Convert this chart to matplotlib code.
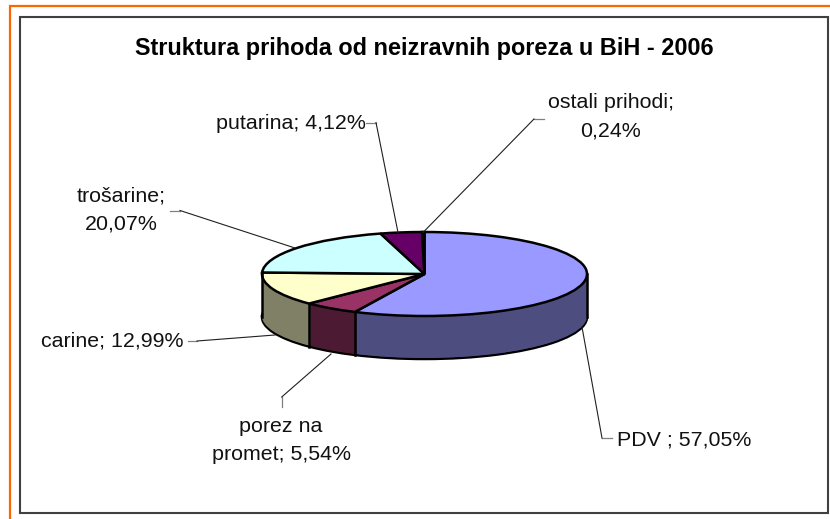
import matplotlib
matplotlib.use('Agg')
import matplotlib.pyplot as plt
from matplotlib.patches import Rectangle
import numpy as np

names = ['PDV', 'porez na promet', 'carine', 'trošarine', 'putarina', 'ostali prihodi']
shares = [57.05, 5.54, 12.99, 20.07, 4.12, 0.24]
top_colors = ['#9999ff', '#993366', '#ffffcc', '#ccffff', '#660066', '#ff8080']
side_colors = ['#4d4d80', '#4d1a33', '#808066', '#668080', '#330033', '#804040']
title = 'Struktura prihoda od neizravnih poreza u BiH - 2006'

W, H = 830, 519
cx, cy = 424.5, 274.0
rx, ry = 162.5, 42.0
depth = 43
edge_lw = 1.8

plt.rcParams['font.family'] = ['Liberation Sans', 'DejaVu Sans']
fig = plt.figure(figsize=(W / 100, H / 100), dpi=100)

# pie axes: unit circle squashed to the ellipse
ax = fig.add_axes([0, 0, 1, 1])
ax.pie(shares, colors=side_colors, startangle=90, counterclock=False, center=(0, -depth / ry),
       wedgeprops={'edgecolor': 'black', 'linewidth': edge_lw, 'clip_on': False})
for d in range(depth - 1, 0, -1):
    ax.pie(shares, colors=side_colors, startangle=90, counterclock=False, center=(0, -d / ry),
           wedgeprops={'edgecolor': 'none', 'linewidth': 0})

# vertical edges of the wall
ends = np.cumsum(shares) / sum(shares)
for e in ends:
    a = np.pi / 2 - 2 * np.pi * e
    if np.sin(a) < -0.05:
        ax.plot([np.cos(a), np.cos(a)], [np.sin(a), np.sin(a) - depth / ry], color='black', lw=edge_lw)
ax.plot([-1, -1], [0, -depth / ry], color='black', lw=edge_lw)
ax.plot([1, 1], [0, -depth / ry], color='black', lw=edge_lw)

ax.pie(shares, colors=top_colors, startangle=90, counterclock=False,
       wedgeprops={'edgecolor': 'black', 'linewidth': edge_lw})
ax.set_aspect('auto')
ax.set_xlim(-cx / rx, (W - cx) / rx)
ax.set_ylim((cy - H) / ry, cy / ry)
ax.axis('off')

# overlay in pixel coordinates: frames, leader lines, texts
ov = fig.add_axes([0, 0, 1, 1])
ov.set_xlim(0, W)
ov.set_ylim(H, 0)
ov.axis('off')
ov.patch.set_alpha(0)

ov.plot([9.5, 9.5, W], [H, 6, 6], color='#ff6600', lw=1.6, solid_joinstyle='miter')
ov.add_patch(Rectangle((20, 16.5), 808, 496, fill=False, edgecolor='#404040', lw=1.5))

stubs = [[(366, 122.5), (376, 122.5)], [(544, 119), (534, 119)], [(170, 210.5), (180, 210.5)],
         [(188, 341), (197, 341)], [(281.7, 407), (281.7, 397)], [(612, 438), (602, 438)]]
leads = [[(376, 122.5), (398, 232.5)], [(534, 119), (423, 232.5)], [(180, 210.5), (295, 248)],
         [(197, 341), (275, 335)], [(281.7, 397), (331, 354)], [(602, 438), (582, 327)]]
for s in stubs:
    ov.plot(*zip(*s), color='#808080', lw=0.9)
for l in leads:
    ov.plot(*zip(*l), color='#202020', lw=0.8)

ov.text(424, 55, title, fontsize=16.9, fontweight='bold', ha='center', va='baseline', color='black')

lab = {'fontsize': 15.4, 'color': '#111111', 'va': 'baseline'}
ov.text(610.5, 108, 'ostali prihodi;', ha='center', **lab)
ov.text(610.5, 136.5, '0,24%', ha='center', **lab)
ov.text(366, 129, 'putarina; 4,12%', ha='right', **lab)
ov.text(121.5, 201, 'trošarine;', ha='center', **lab)
ov.text(121.5, 229, '20,07%', ha='center', **lab)
ov.text(183, 346.5, 'carine; 12,99%', ha='right', **lab)
ov.text(281, 432.5, 'porez na', ha='center', **lab)
ov.text(281, 460.5, 'promet; 5,54%', ha='center', **lab)
ov.text(617, 445, 'PDV ; 57,05%', ha='left', **lab)

plt.savefig('out.png', dpi=100)
plt.close()
